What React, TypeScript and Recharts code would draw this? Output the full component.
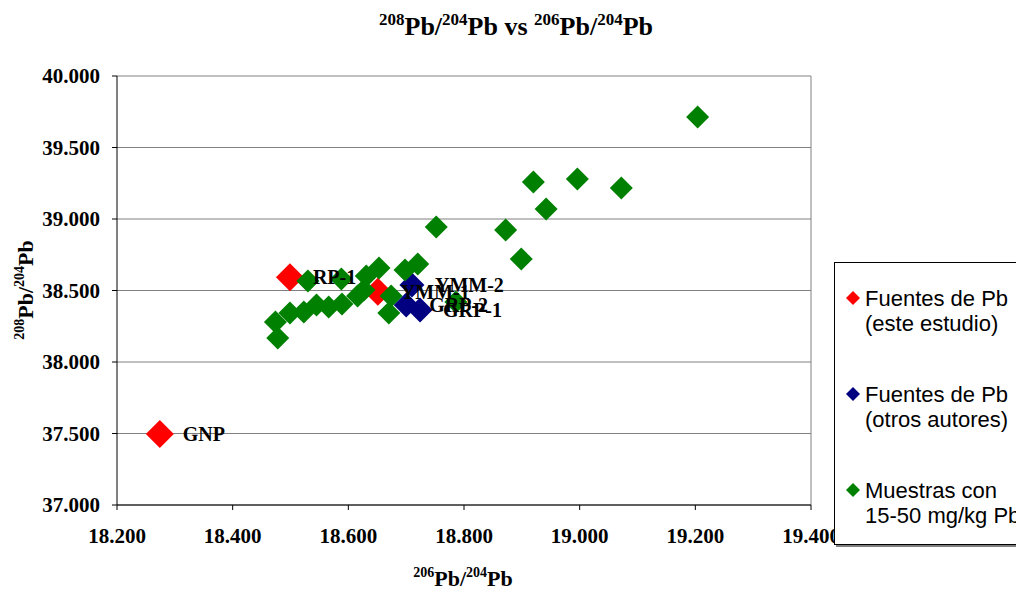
import React from "react";
import {
    ScatterChart,
    Scatter,
    XAxis,
    YAxis,
    CartesianGrid,
    ReferenceLine,
    Legend,
} from "recharts";

const xTicks = [18.2, 18.4, 18.6, 18.8, 19.0, 19.2, 19.4];
const yTicks = [37.0, 37.5, 38.0, 38.5, 39.0, 39.5, 40.0];

// Fuentes de Pb (este estudio)
const esteEstudioX = [18.274, 18.499, 18.651];
const esteEstudioY = [37.497, 38.592, 38.492];
const esteEstudioLabels = ["GNP", "RP-1", "YMM-1"];

// Fuentes de Pb (otros autores)
const otrosAutoresX = [18.71, 18.7, 18.724];
const otrosAutoresY = [38.538, 38.399, 38.364];
const otrosAutoresLabels = ["YMM-2", "GRP-2", "GRP-1"];

// Muestras con 15-50 mg/kg Pb
const muestrasX = [
    18.474, 18.478, 18.499, 18.523, 18.545, 18.566, 18.589, 18.616, 18.53,
    18.588, 18.627, 18.631, 18.653, 18.674, 18.67, 18.698, 18.72, 18.786,
    18.752, 18.872, 18.899, 18.92, 18.996, 19.072, 18.942, 19.204,
];
const muestrasY = [
    38.28, 38.168, 38.343, 38.35, 38.399, 38.385, 38.406, 38.462, 38.566,
    38.58, 38.503, 38.601, 38.657, 38.462, 38.343, 38.643, 38.685, 38.42,
    38.944, 38.923, 38.72, 39.259, 39.28, 39.217, 39.07, 39.713,
];

const seriesNames = [
    ["Fuentes de Pb", "(este estudio)"],
    ["Fuentes de Pb", "(otros autores)"],
    ["Muestras con", "15-50 mg/kg Pb"],
];
const seriesColors = ["#ff0000", "#000080", "#008000"];

const toPoints = (xs: number[], ys: number[], labels?: string[]) =>
    xs.map((x, i) => ({ x, y: ys[i], label: labels ? labels[i] : "" }));

const esteEstudio = toPoints(esteEstudioX, esteEstudioY, esteEstudioLabels);
const otrosAutores = toPoints(otrosAutoresX, otrosAutoresY, otrosAutoresLabels);
const muestras = toPoints(muestrasX, muestrasY);
const labelled = [...esteEstudio, ...otrosAutores];

const SERIF = "'Liberation Serif', 'Times New Roman', serif";
const SANS = "'Liberation Sans', Arial, sans-serif";

// diamond marker, half = half of the diagonal
const diamond = (half: number, fill: string) => (props: any) => {
    const { cx, cy } = props;
    if (cx == null || cy == null) return <g />;
    const pts = `${cx},${cy - half} ${cx + half},${cy} ${cx},${cy + half} ${cx - half},${cy}`;
    return <polygon points={pts} fill={fill} />;
};

// point labels drawn by a last, markerless series so they sit on top
const pointLabel = (props: any) => {
    const { cx, cy, payload } = props;
    if (cx == null || cy == null) return <g />;
    return (
        <text
            x={cx + 23}
            y={cy}
            dy="0.35em"
            fontFamily={SERIF}
            fontWeight="bold"
            fontSize={20}
            fill="#000"
        >
            {payload.label}
        </text>
    );
};

const XTick = (props: any) => {
    const { x, y, payload } = props;
    return (
        <text
            x={x}
            y={y + 33}
            textAnchor="middle"
            fontFamily={SERIF}
            fontWeight="bold"
            fontSize={21}
            fill="#000"
        >
            {Number(payload.value).toFixed(3)}
        </text>
    );
};

const YTick = (props: any) => {
    const { x, y, payload } = props;
    return (
        <text
            x={x}
            y={y}
            dy="0.35em"
            textAnchor="end"
            fontFamily={SERIF}
            fontWeight="bold"
            fontSize={21}
            fill="#000"
        >
            {Number(payload.value).toFixed(3)}
        </text>
    );
};

// "208Pb/204Pb" style text with superscript mass numbers
function IsoRatio({ top, bottom, size, supSize }: { top: string; bottom: string; size: number; supSize: number }) {
    const shift = Math.round(size * 0.4);
    return (
        <>
            <tspan fontSize={supSize} dy={-shift}>{top}</tspan>
            <tspan fontSize={size} dy={shift}>Pb/</tspan>
            <tspan fontSize={supSize} dy={-shift}>{bottom}</tspan>
            <tspan fontSize={size} dy={shift}>Pb</tspan>
        </>
    );
}

const renderLegend = () => (
    <div
        style={{
            width: "100%",
            height: "100%",
            boxSizing: "border-box",
            border: "1px solid #000",
            boxShadow: "2px 2px 0 #808080",
            background: "#fff",
            paddingTop: 23,
            fontFamily: SANS,
            fontSize: 22,
            lineHeight: "25px",
            color: "#000",
        }}
    >
        {seriesNames.map((lines, i) => (
            <div key={i} style={{ position: "relative", paddingLeft: 30, marginBottom: 46 }}>
                <svg width={16} height={16} style={{ position: "absolute", left: 10, top: 4 }}>
                    <polygon points="8,1 15,8 8,15 1,8" fill={seriesColors[i]} />
                </svg>
                <div>{lines[0]}</div>
                <div>{lines[1]}</div>
            </div>
        ))}
    </div>
);

export default function App() {
    return (
        <div
            style={{
                position: "absolute",
                left: 0,
                top: 0,
                width: 1016,
                height: 593,
                overflow: "hidden",
                background: "#fff",
            }}
        >
            <ScatterChart width={1016} height={593} margin={{ top: 76, right: 205, bottom: 0, left: 0 }}>
                <CartesianGrid vertical={false} stroke="#808080" strokeWidth={1} />
                <ReferenceLine x={19.4} stroke="#808080" strokeWidth={1} />
                <XAxis
                    type="number"
                    dataKey="x"
                    domain={[18.2, 19.4]}
                    ticks={xTicks}
                    allowDataOverflow
                    height={88}
                    tickSize={5}
                    tickMargin={0}
                    stroke="#000"
                    tick={<XTick />}
                />
                <YAxis
                    type="number"
                    dataKey="y"
                    domain={[37, 40]}
                    ticks={yTicks}
                    allowDataOverflow
                    width={117}
                    tickSize={5}
                    tickMargin={12}
                    stroke="#000"
                    tick={<YTick />}
                />
                <Legend
                    layout="vertical"
                    align="center"
                    verticalAlign="middle"
                    content={renderLegend}
                    wrapperStyle={{ left: 834, top: 262, width: 200, height: 283 }}
                />
                <Scatter
                    name="Fuentes de Pb (este estudio)"
                    data={esteEstudio}
                    fill={seriesColors[0]}
                    shape={diamond(14, seriesColors[0])}
                    isAnimationActive={false}
                />
                <Scatter
                    name="Fuentes de Pb (otros autores)"
                    data={otrosAutores}
                    fill={seriesColors[1]}
                    shape={diamond(12.5, seriesColors[1])}
                    isAnimationActive={false}
                />
                <Scatter
                    name="Muestras con 15-50 mg/kg Pb"
                    data={muestras}
                    fill={seriesColors[2]}
                    shape={diamond(11.5, seriesColors[2])}
                    isAnimationActive={false}
                />
                <Scatter
                    name="labels"
                    data={labelled}
                    legendType="none"
                    shape={pointLabel}
                    isAnimationActive={false}
                />
                <text x={516} y={35} textAnchor="middle" fontFamily={SERIF} fontWeight="bold" fill="#000">
                    <IsoRatio top="208" bottom="204" size={26} supSize={17} />
                    <tspan fontSize={26}> vs </tspan>
                    <IsoRatio top="206" bottom="204" size={26} supSize={17} />
                </text>
                <text x={463} y={586} textAnchor="middle" fontFamily={SERIF} fontWeight="bold" fill="#000">
                    <IsoRatio top="206" bottom="204" size={22} supSize={14} />
                </text>
                <text
                    transform="translate(33,290) rotate(-90)"
                    textAnchor="middle"
                    fontFamily={SERIF}
                    fontWeight="bold"
                    fill="#000"
                >
                    <IsoRatio top="208" bottom="204" size={22} supSize={14} />
                </text>
            </ScatterChart>
        </div>
    );
}
